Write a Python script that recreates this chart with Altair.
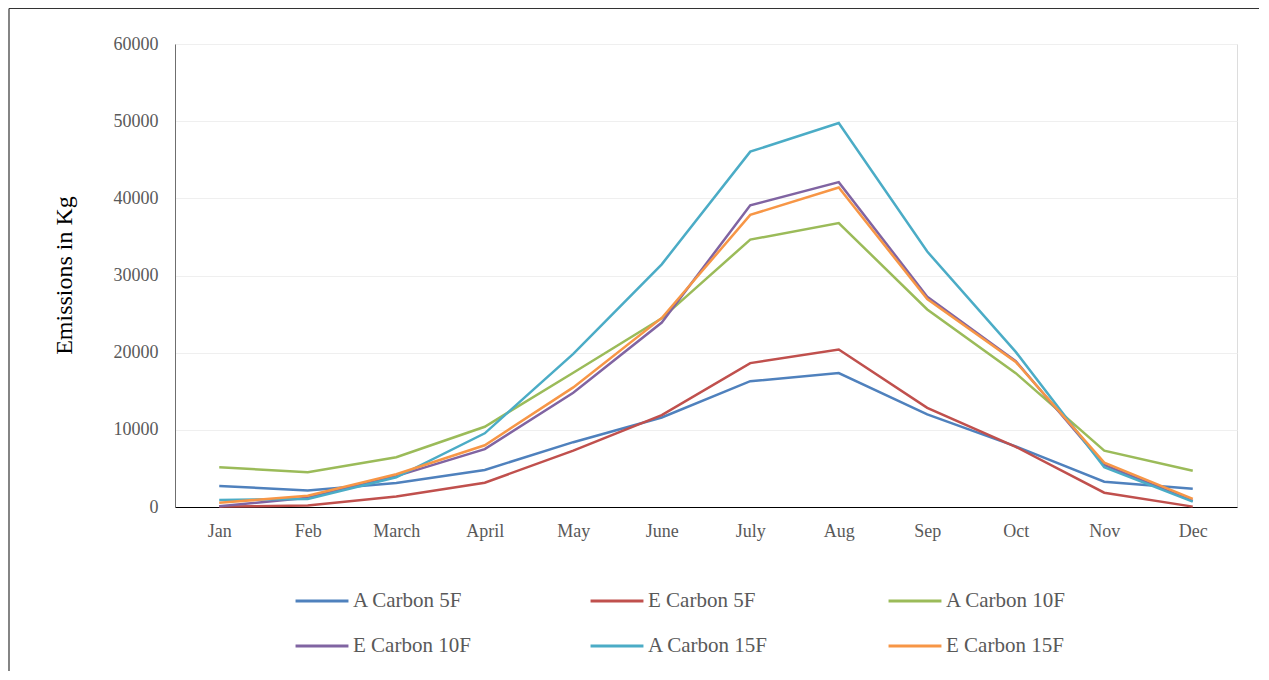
import altair as alt
import pandas as pd

months = ["Jan", "Feb", "March", "April", "May", "June", "July", "Aug", "Sep", "Oct", "Nov", "Dec"]
series_names = ["A Carbon 5F", "E Carbon 5F", "A Carbon 10F", "E Carbon 10F", "A Carbon 15F", "E Carbon 15F"]
a_carbon_5f = [2720, 2150, 3100, 4800, 8400, 11600, 16300, 17350, 12000, 7850, 3280, 2350]
e_carbon_5f = [50, 200, 1350, 3150, 7300, 11900, 18650, 20400, 12850, 7800, 1850, 50]
a_carbon_10f = [5150, 4500, 6450, 10400, 17400, 24450, 34650, 36800, 25600, 17350, 7300, 4700]
e_carbon_10f = [100, 1200, 4000, 7500, 14800, 23900, 39100, 42100, 27250, 18900, 5450, 800]
a_carbon_15f = [900, 1050, 3850, 9550, 19850, 31450, 46050, 49750, 33100, 20100, 5150, 700]
e_carbon_15f = [550, 1450, 4250, 8000, 15500, 24500, 37850, 41400, 26950, 18800, 5750, 1050]
colors = ["#4F81BD", "#C0504D", "#9BBB59", "#8064A2", "#4BACC6", "#F79646"]

all_series = [a_carbon_5f, e_carbon_5f, a_carbon_10f, e_carbon_10f, a_carbon_15f, e_carbon_15f]
rows = []
for name, vals in zip(series_names, all_series):
    for m, v in zip(months, vals):
        rows.append({"month": m, "series": name, "value": v})
df = pd.DataFrame(rows)

FONT = "Liberation Serif"

lines = alt.Chart(df).mark_line(strokeWidth=2.5).encode(
    x=alt.X("month:N", sort=months,
            scale=alt.Scale(type="point", padding=0.5),
            axis=alt.Axis(title=None, labelAngle=0, ticks=False, domainColor="#000000",
                          domainWidth=1.2, labelPadding=15, labelFontSize=18,
                          labelColor="#595959", labelFont=FONT, grid=False)),
    y=alt.Y("value:Q",
            scale=alt.Scale(domain=[0, 60000], nice=False),
            axis=alt.Axis(title="Emissions in Kg", values=[0, 10000, 20000, 30000, 40000, 50000, 60000],
                          format="d", ticks=False, domainColor="#6f6f6f", labelPadding=17,
                          labelFontSize=18, labelColor="#595959", labelFont=FONT,
                          gridColor="#EFEFEF", gridWidth=1,
                          titleFont=FONT, titleFontSize=24, titleFontWeight="normal",
                          titleColor="#000000", titleAngle=270, titleX=-111, titleY=231,
                          titleAlign="center", titleBaseline="middle")),
    color=alt.Color("series:N", sort=series_names,
                    scale=alt.Scale(domain=series_names, range=colors),
                    legend=alt.Legend(title=None, orient="none", legendX=119, legendY=529,
                                      columns=3, columnPadding=113, rowPadding=7,
                                      symbolType="stroke", symbolSize=2800, symbolStrokeWidth=3,
                                      labelFont=FONT, labelFontSize=21, labelColor="#595959",
                                      labelOffset=3, padding=0, direction="horizontal")),
)

one = pd.DataFrame({"k": [0]})
left_border = alt.Chart(one).mark_rule(stroke="#333333", strokeWidth=1.2).encode(
    x=alt.value(-166), y=alt.value(-35.5), y2=alt.value(700)
)
top_border = alt.Chart(one).mark_rule(stroke="#333333", strokeWidth=1.2).encode(
    x=alt.value(-166), x2=alt.value(1300), y=alt.value(-35.5)
)

chart = alt.layer(left_border, top_border, lines).properties(
    width=1062, height=463,
    autosize=alt.AutoSizeParams(type="none"),
    padding={"left": 167, "top": 36, "right": 22, "bottom": 164},
).configure_view(stroke=None).configure(background="white")

chart.save("out.html", embed_options={"renderer": "svg", "actions": False})
